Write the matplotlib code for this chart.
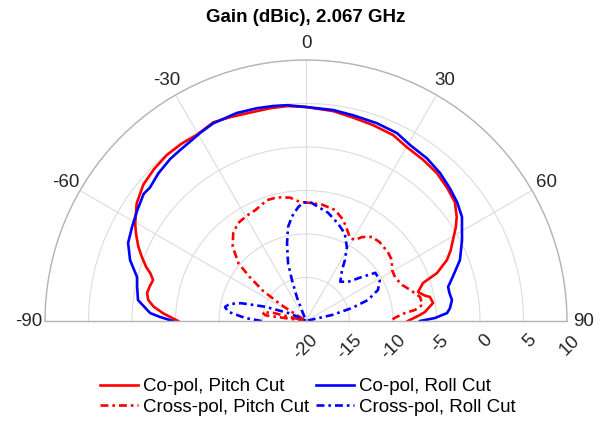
import numpy as np
import matplotlib
matplotlib.use("Agg")
import matplotlib.pyplot as plt

plt.rcParams['font.family'] = ['Liberation Sans', 'DejaVu Sans']

# angles in degrees, gain in dBic
copol_pitch_deg = [-90, -87, -84.6, -82.4, -80, -77.5, -75, -73, -71.3, -68.6, -66.1, -62.7,
                   -60.3, -55.2, -50, -45, -40, -35, -30.4, -25, -20.4, -15, -9.6, -5, 0,
                   7.3, 13, 18.9, 25.1, 30.1, 36, 41.5, 46.7, 51.4, 55.4, 58, 61.1, 64, 66.6,
                   69.9, 72, 75.5, 78, 79, 81.9, 85.7, 87.4, 90]
copol_pitch_db = [-5.3, -3.6, -2.4, -1.7, -1.45, -1.6, -1.8, -1.3, -0.6, 0.28, 1.08, 2.0,
                  2.6, 3.7, 4.4, 4.7, 4.9, 4.9, 4.8, 5.2, 5.0, 4.8, 4.8, 4.8, 4.6,
                  4.33, 4.0, 3.8, 3.6, 3.1, 2.9, 2.7, 2.3, 1.9, 1.05, 0.3, -0.7, -1.5, -2.35,
                  -3.97, -5.86, -6.7, -6.0, -5.5, -5.25, -6.3, -7.1, -8.3]

copol_roll_deg = [-90, -88.4, -87.1, -82.9, -78.6, -75.4, -70.9, -66.3, -61.6, -56.7, -51.9,
                  -49.5, -45, -40, -36.4, -32, -29.4, -25.2, -18.4, -13, -8.7, -5, 0,
                  7.3, 12.9, 19.7, 25.8, 30.6, 36.6, 42.2, 47.3, 51.8, 56.3, 60, 62.6, 68.4,
                  73.3, 76.5, 79, 81.8, 85, 86.8, 88.7, 90]
copol_roll_db = [-4.7, -3.2, -2.07, -0.54, -0.2, 0.07, 1.4, 2.33, 2.73, 3.2, 3.7,
                 3.6, 4.0, 4.3, 4.4, 4.6, 4.8, 5.1, 5.2, 5.1, 5.0, 4.9, 4.6,
                 4.45, 4.26, 4.15, 4.0, 3.5, 3.3, 2.95, 2.5, 2.1, 1.55, 0.7, 0.2, -0.97,
                 -2.4, -3.2, -3.2, -3.05, -3.4, -3.77, -5.2, -6.9]

xpol_pitch_deg = [-90, -84, -82, -79, -76, -73, -60, -57, -55, -52, -49.5, -44.6, -39.7,
                  -34.8, -28.7, -24.7, -17.9, -13.2, -7.4, -2.9, 1, 7.9, 14.6, 20.1, 24.3,
                  27.9, 31.2, 33.7, 38.2, 43.1, 49.9, 54.6, 59.3, 64.2, 69.4, 73.4, 78.1,
                  82.1, 84.2, 85.4, 88, 90]
xpol_pitch_db = [-20, -20, -15.3, -14.9, -16, -20, -20, -16.6, -14, -11.8, -9.8, -8.0, -6.9,
                 -6.3, -6.1, -6.0, -5.4, -5.4, -5.7, -6.3, -6.4, -6.5, -6.8, -7.6, -8.5,
                 -9.2, -9.1, -8.4, -7.7, -7.6, -7.7, -7.9, -8.5, -8.6, -8.2, -7.5, -6.6,
                 -6.5, -7.4, -8.6, -9.8, -10.3]

xpol_roll_deg = [-90, -87.2, -83.2, -80.2, -77.4, -74.6, -70.8, -66, -62, -58, -25, -21,
                 -18.9, -17.2, -13.7, -10.8, -7.7, -4, -1.5, 1.9, 6, 11.5, 18.1, 23.9, 29,
                 32.6, 35.2, 41.1, 47.1, 51.8, 55.2, 61, 66.7, 71.3, 74.2, 77, 80, 90]
xpol_roll_db = [-14.9, -13, -11, -10.55, -11, -12.3, -15, -17.7, -19, -20, -20, -17.1,
                -15, -13, -10.8, -9.0, -7.9, -6.9, -6.4, -6.3, -6.8, -7.3, -8.2, -9.0, -10.3,
                -11.7, -12.8, -14.0, -13.4, -11.8, -10.3, -10.3, -11.0, -12.5, -14.5, -16.9, -20, -20]

r_ticks = [-20, -15, -10, -5, 0, 5, 10]
theta_ticks = [-90, -60, -30, 0, 30, 60, 90]

fs = 13.5
grid_col = '#dcdcdc'
edge_col = '#b4b4b4'
txt_col = '#262626'

fig = plt.figure(figsize=(6.08, 4.23), dpi=100)
# half wedge sits centred in a square box: centre (306, 321) px, radius 261 px
ax = fig.add_axes([45 / 608, 1 - 451.5 / 423, 522 / 608, 522 / 423], projection='polar')
ax.set_theta_zero_location('N')
ax.set_theta_direction(-1)
ax.set_thetamin(-90)
ax.set_thetamax(90)
ax.set_rlim(-20, 10)

ax.set_thetagrids(theta_ticks, [str(t) for t in theta_ticks], fontsize=fs, color=txt_col)
ax.set_rgrids(r_ticks, labels=[''] * len(r_ticks))
ax.tick_params(axis='x', pad=5, length=0)
ax.tick_params(axis='y', length=0)
ax.grid(True, color=grid_col, lw=0.8)
for sp in ax.spines.values():
    sp.set_color(edge_col)
    sp.set_linewidth(1.0)

dashdot = (0, (3, 1.5, 1, 1.5))
ax.plot(np.deg2rad(copol_pitch_deg), copol_pitch_db, color='#ff0000', lw=1.9,
        label='Co-pol, Pitch Cut')
ax.plot(np.deg2rad(copol_roll_deg), copol_roll_db, color='#0000ff', lw=1.9,
        label='Co-pol, Roll Cut')
ax.plot(np.deg2rad(xpol_pitch_deg), xpol_pitch_db, color='#ff0000', lw=1.9, ls=dashdot,
        label='Cross-pol, Pitch Cut')
ax.plot(np.deg2rad(xpol_roll_deg), xpol_roll_db, color='#0000ff', lw=1.9, ls=dashdot,
        label='Cross-pol, Roll Cut')

# radial labels, rotated, under the right-hand baseline
for r in r_ticks:
    ax.annotate(str(r), xy=(np.pi / 2, r), xytext=(7, -12), textcoords='offset points',
                rotation=45, rotation_mode='anchor', ha='right', va='center',
                fontsize=fs, color=txt_col, annotation_clip=False)

fig.text(306 / 608, 1 - 17 / 423, 'Gain (dBic), 2.067 GHz', ha='center', va='center',
         fontsize=fs, fontweight='bold')

h, l = ax.get_legend_handles_labels()
order = [0, 2, 1, 3]
fig.legend([h[i] for i in order], [l[i] for i in order], ncol=2, loc='center',
           bbox_to_anchor=(308 / 608, 1 - 397 / 423), frameon=False, fontsize=fs,
           handlelength=2.0, handletextpad=0.3, columnspacing=0.35, labelspacing=0.2,
           borderpad=0.1)

fig.savefig('out.png', dpi=100)
